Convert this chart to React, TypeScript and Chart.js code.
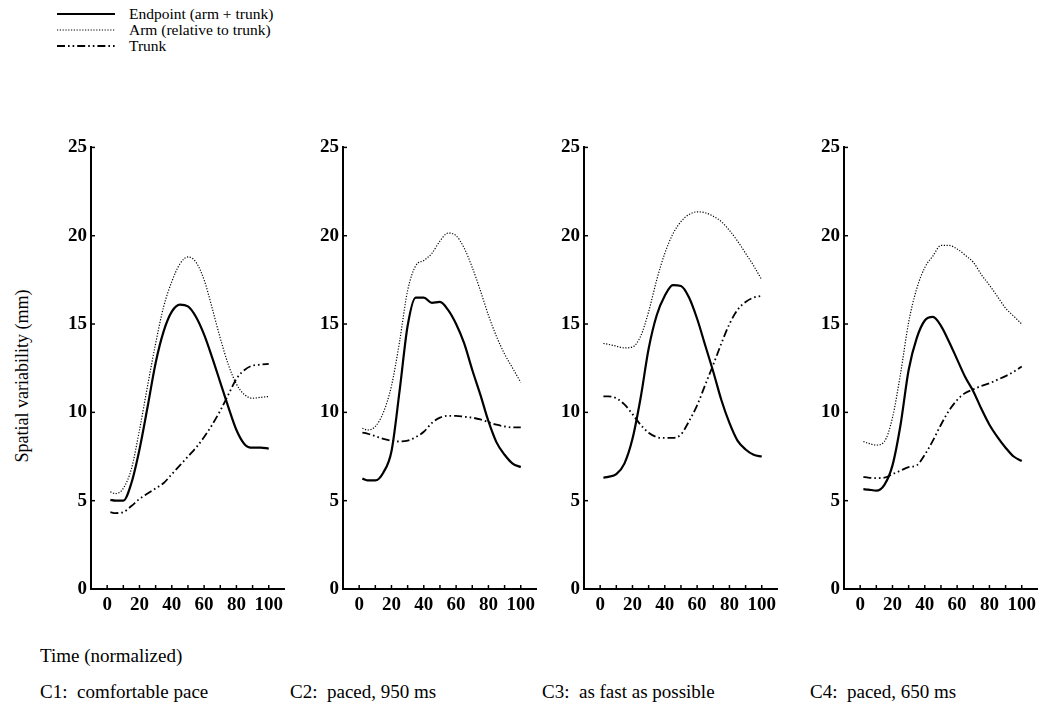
import React, { useEffect, useRef } from "react";
import { Chart, registerables } from "chart.js";

Chart.register(...registerables);

// ---- Data ----
const timePoints = [2, 5, 10, 15, 20, 25, 30, 35, 40, 45, 50, 55, 60, 65, 70, 75, 80, 85, 90, 95, 100];

const seriesNames = ["Endpoint (arm + trunk)", "Arm (relative to trunk)", "Trunk"];

const c1Endpoint = [5.05, 5.0, 5.0, 6.0, 7.9, 10.3, 12.8, 14.6, 15.7, 16.1, 16.0, 15.4, 14.4, 13.1, 11.7, 10.3, 9.0, 8.2, 8.0, 8.0, 7.95];
const c1Arm = [5.5, 5.4, 5.7, 6.8, 9.0, 11.5, 13.9, 16.0, 17.4, 18.4, 18.8, 18.5, 17.5, 15.9, 14.2, 12.7, 11.6, 11.0, 10.8, 10.85, 10.9];
const c1Trunk = [4.35, 4.3, 4.35, 4.7, 5.1, 5.4, 5.7, 6.0, 6.5, 7.0, 7.5, 8.0, 8.6, 9.3, 10.1, 11.0, 11.9, 12.4, 12.65, 12.7, 12.75];

const c2Endpoint = [6.25, 6.15, 6.15, 6.6, 7.8, 11.2, 14.9, 16.5, 16.5, 16.2, 16.25, 15.8, 15.0, 13.9, 12.4, 11.0, 9.5, 8.3, 7.6, 7.1, 6.9];
const c2Arm = [9.1, 9.0, 9.2, 10.0, 11.5, 14.0, 16.9, 18.3, 18.6, 19.0, 19.7, 20.15, 20.0, 19.3, 18.2, 16.9, 15.5, 14.3, 13.3, 12.5, 11.7];
const c2Trunk = [8.85, 8.8, 8.65, 8.5, 8.4, 8.35, 8.4, 8.6, 8.9, 9.4, 9.7, 9.8, 9.8, 9.75, 9.7, 9.6, 9.45, 9.3, 9.2, 9.15, 9.15];

const c3Endpoint = [6.3, 6.35, 6.5, 7.1, 8.5, 10.8, 13.6, 15.5, 16.6, 17.2, 17.15, 16.5, 15.3, 13.8, 12.3, 10.7, 9.4, 8.4, 7.9, 7.6, 7.5];
const c3Arm = [13.9, 13.85, 13.75, 13.65, 13.7, 14.3, 15.7, 17.5, 19.0, 20.1, 20.8, 21.2, 21.35, 21.3, 21.1, 20.8, 20.3, 19.7, 19.0, 18.3, 17.5];
const c3Trunk = [10.9, 10.9, 10.8, 10.45, 9.9, 9.3, 8.85, 8.6, 8.55, 8.55, 8.75, 9.5, 10.4, 11.55, 12.7, 13.9, 15.0, 15.8, 16.25, 16.5, 16.6];

const c4Endpoint = [5.65, 5.63, 5.57, 5.9, 7.0, 9.3, 12.4, 14.2, 15.2, 15.4, 14.9, 14.0, 13.0, 12.0, 11.2, 10.2, 9.3, 8.6, 8.0, 7.5, 7.25];
const c4Arm = [8.35, 8.25, 8.15, 8.35, 9.7, 12.2, 15.1, 17.0, 18.2, 18.85, 19.45, 19.45, 19.25, 18.9, 18.5, 17.8, 17.2, 16.55, 15.9, 15.45, 15.0];
const c4Trunk = [6.35, 6.3, 6.28, 6.3, 6.5, 6.7, 6.9, 7.0, 7.6, 8.4, 9.3, 10.1, 10.7, 11.1, 11.3, 11.5, 11.65, 11.85, 12.05, 12.3, 12.6];

const panelTitles = ["C1:  comfortable pace", "C2:  paced, 950 ms", "C3:  as fast as possible", "C4:  paced, 650 ms"];
const xTickValues = [0, 10, 20, 30, 40, 50, 60, 70, 80, 90, 100];
const xLabelValues = [0, 20, 40, 60, 80, 100];
const yTickValues = [0, 5, 10, 15, 20, 25];

const panels = [
  [c1Endpoint, c1Arm, c1Trunk],
  [c2Endpoint, c2Arm, c2Trunk],
  [c3Endpoint, c3Arm, c3Trunk],
  [c4Endpoint, c4Arm, c4Trunk],
];

// ---- Styling / layout ----
const FONT = '"Liberation Serif", "Times New Roman", serif';
const styles = [
  { width: 2.2, dash: [] as number[] },
  { width: 1.2, dash: [1.2, 1.6] },
  { width: 1.8, dash: [8, 3, 1.6, 3, 1.6, 3] },
];
const axisLefts = [91, 343, 584, 844];
const AXIS_W = 32;
const AXIS_H = 36;
const PAD_TOP = 11;
const PLOT_TOP = 143;
const PLOT_H = 446;
const PLOT_W = 197;

const innerTicks = {
  id: "innerTicks",
  afterDraw(chart: any) {
    const { ctx } = chart;
    const xs = chart.scales.x;
    const ys = chart.scales.y;
    ctx.save();
    ctx.strokeStyle = "#000";
    ctx.lineWidth = 1.5;
    xs.ticks.forEach((_t: any, i: number) => {
      const px = xs.getPixelForTick(i);
      ctx.beginPath();
      ctx.moveTo(px, ys.bottom);
      ctx.lineTo(px, ys.bottom - 4);
      ctx.stroke();
    });
    ys.ticks.forEach((_t: any, i: number) => {
      const py = ys.getPixelForTick(i);
      ctx.beginPath();
      ctx.moveTo(xs.left, py);
      ctx.lineTo(xs.left + 4, py);
      ctx.stroke();
    });
    ctx.restore();
  },
};

function Panel({ series, left }: { series: number[][]; left: number }) {
  const ref = useRef<HTMLCanvasElement>(null);
  useEffect(() => {
    if (!ref.current) return;
    const chart = new Chart(ref.current, {
      type: "line",
      data: {
        datasets: series.map((vals, k) => ({
          label: seriesNames[k],
          data: timePoints.map((x, i) => ({ x, y: vals[i] })),
          borderColor: "#000",
          borderWidth: styles[k].width,
          borderDash: styles[k].dash,
          pointRadius: 0,
          fill: false,
          cubicInterpolationMode: "monotone" as const,
        })),
      },
      options: {
        animation: false,
        responsive: false,
        devicePixelRatio: 1,
        layout: { padding: { top: PAD_TOP, left: 0, right: 0, bottom: 0 } },
        plugins: { legend: { display: false }, tooltip: { enabled: false } },
        scales: {
          x: {
            type: "linear",
            min: -10,
            max: 110,
            afterBuildTicks: (scale: any) => {
              scale.ticks = xTickValues.map((v) => ({ value: v }));
            },
            afterFit: (scale: any) => {
              scale.height = AXIS_H;
            },
            grid: { drawOnChartArea: false, drawTicks: false },
            border: { display: true, color: "#000", width: 2 },
            ticks: {
              autoSkip: false,
              maxRotation: 0,
              padding: 5,
              color: "#000",
              font: { family: FONT, size: 19, weight: "bold" },
              callback: (v: any) => (xLabelValues.includes(Number(v)) ? String(v) : ""),
            },
          },
          y: {
            type: "linear",
            min: 0,
            max: 25,
            afterBuildTicks: (scale: any) => {
              scale.ticks = yTickValues.map((v) => ({ value: v }));
            },
            afterFit: (scale: any) => {
              scale.width = AXIS_W;
            },
            grid: { drawOnChartArea: false, drawTicks: false },
            border: { display: true, color: "#000", width: 2 },
            ticks: {
              padding: 4,
              color: "#000",
              font: { family: FONT, size: 19, weight: "bold" },
            },
          },
        },
      },
      plugins: [innerTicks],
    } as any);
    return () => chart.destroy();
  }, [series]);
  return (
    <canvas
      ref={ref}
      width={AXIS_W + PLOT_W}
      height={PAD_TOP + PLOT_H + AXIS_H}
      style={{ position: "absolute", left: left - AXIS_W, top: PLOT_TOP - PAD_TOP, width: AXIS_W + PLOT_W, height: PAD_TOP + PLOT_H + AXIS_H }}
    />
  );
}

function LegendRow({ y, k }: { y: number; k: number }) {
  return (
    <>
      <svg style={{ position: "absolute", left: 57, top: y - 4 }} width={60} height={8}>
        <line x1={0} y1={4} x2={58} y2={4} stroke="#000" strokeWidth={styles[k].width} strokeDasharray={styles[k].dash.join(" ")} />
      </svg>
      <div style={{ position: "absolute", left: 129, top: y - 9, lineHeight: "18px", fontSize: 15.5, fontFamily: FONT, whiteSpace: "pre" }}>
        {seriesNames[k]}
      </div>
    </>
  );
}

export default function App() {
  const labelLefts = [40, 290, 542, 810];
  return (
    <div style={{ position: "absolute", left: 0, top: 0, width: 1041, height: 707, background: "#fff", overflow: "hidden", color: "#000" }}>
      <LegendRow y={14} k={0} />
      <LegendRow y={30} k={1} />
      <LegendRow y={46} k={2} />
      {panels.map((s, i) => (
        <Panel key={i} series={s} left={axisLefts[i]} />
      ))}
      <div
        style={{
          position: "absolute",
          left: 22,
          top: 376,
          transform: "translate(-50%, -50%) rotate(-90deg)",
          fontFamily: FONT,
          fontSize: 18,
          whiteSpace: "pre",
        }}
      >
        Spatial variability (mm)
      </div>
      <div style={{ position: "absolute", left: 40, top: 645, lineHeight: "22px", fontSize: 19, fontFamily: FONT, whiteSpace: "pre" }}>
        Time (normalized)
      </div>
      {panelTitles.map((t, i) => (
        <div key={i} style={{ position: "absolute", left: labelLefts[i], top: 681, lineHeight: "22px", fontSize: 19, fontFamily: FONT, whiteSpace: "pre" }}>
          {t}
        </div>
      ))}
    </div>
  );
}
